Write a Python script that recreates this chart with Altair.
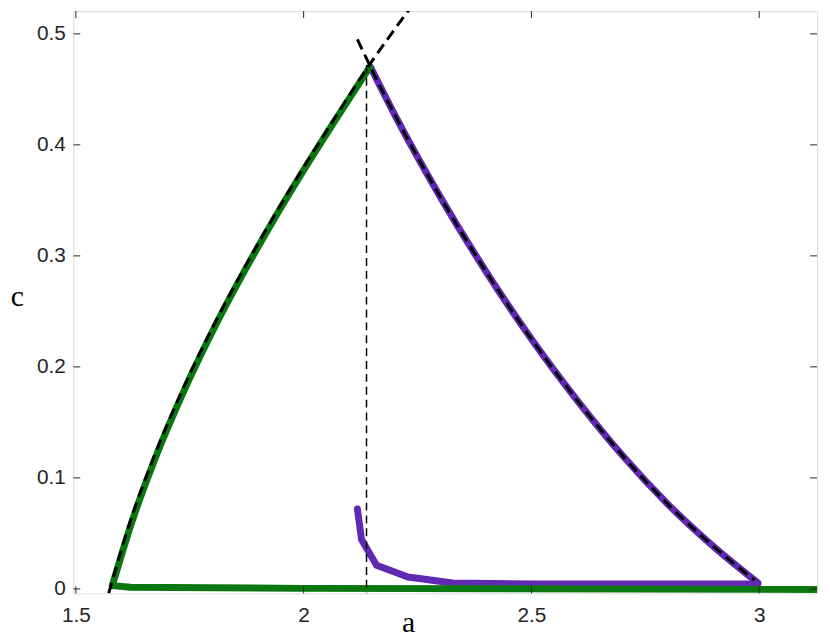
import altair as alt
import pandas as pd

# ---------------- data ----------------
x_ticks = [1.5, 2, 2.5, 3]
y_ticks = [0, 0.1, 0.2, 0.3, 0.4, 0.5]

# green branch: left edge (bottom -> cusp) and the bottom edge
green_curve_a = [1.580, 1.623, 1.674, 1.740, 1.805, 1.870, 1.935, 2.000, 2.073, 2.145]
green_curve_c = [0.0030, 0.0604, 0.1175, 0.1809, 0.2362, 0.2862, 0.3330, 0.3772, 0.4246, 0.470]
green_base_a = [1.580, 1.620, 2.000, 3.127]
green_base_c = [0.0030, 0.0015, 0.0005, -0.0005]

# purple branch: right edge (cusp -> bottom right) and the lower arm
purple_curve_a = [2.147, 2.200, 2.300, 2.400, 2.500, 2.600, 2.700, 2.800, 2.900, 2.997]
purple_curve_c = [0.470, 0.4271, 0.3531, 0.2861, 0.2251, 0.1701, 0.1201, 0.0761, 0.0381, 0.0055]
purple_low_a = [2.118, 2.127, 2.160, 2.229, 2.327, 2.508, 2.997]
purple_low_c = [0.072, 0.0446, 0.0214, 0.0107, 0.0053, 0.0045, 0.0045]

# black dashed analytic curves
dash_left_a = [1.572, 1.577, 1.619, 1.670, 1.736, 1.801, 1.866, 1.931, 1.996, 2.069, 2.141, 2.240]
dash_left_c = [-0.004, 0.0030, 0.0604, 0.1175, 0.1809, 0.2362, 0.2862, 0.3330, 0.3772, 0.4246, 0.470, 0.5265]

dash_right_a = [2.118, 2.147, 2.200, 2.300, 2.400, 2.500, 2.600, 2.700, 2.800, 2.900, 2.990]
dash_right_c = [0.495, 0.470, 0.4271, 0.3531, 0.2861, 0.2251, 0.1701, 0.1201, 0.0761, 0.0381, 0.008]

vline_a = [2.138, 2.138]
vline_c = [0.472, -0.004]

# ---------------- layout / style ----------------
X_DOMAIN = [1.4945, 3.127]
Y_DOMAIN = [-0.004, 0.5205]
W, H = 751, 588
TICK = 7
AX = "#262626"
GREEN = "#0a780e"
PURPLE = "#6128b2"


def frame(a, c):
    return pd.DataFrame({"a": a, "c": c, "i": list(range(len(a)))})


xs = alt.Scale(domain=X_DOMAIN, nice=False, zero=False)
ys = alt.Scale(domain=Y_DOMAIN, nice=False, zero=False)

xaxis = alt.Axis(values=x_ticks, format="~g", title="a", grid=False, ticks=False, domain=False,
                 labelFont="Liberation Sans", labelFontSize=21, labelColor=AX, labelPadding=11,
                 titleFont="Liberation Serif", titleFontSize=30, titleFontWeight="normal",
                 titleColor="#000000", titleX=338, titleY=30, titleBaseline="middle",
                 titleAlign="center")
yaxis = alt.Axis(values=y_ticks, format="~g", title="c", grid=False, ticks=False, domain=False,
                 labelFont="Liberation Sans", labelFontSize=21, labelColor=AX, labelPadding=8,
                 titleFont="Liberation Serif", titleFontSize=30, titleFontWeight="normal",
                 titleColor="#000000", titleAngle=0, titleX=-57, titleY=288,
                 titleBaseline="middle", titleAlign="center")

X = alt.X("a:Q", scale=xs, axis=xaxis)
Y = alt.Y("c:Q", scale=ys, axis=yaxis)


def line(a, c, interp="linear", **kw):
    return alt.Chart(frame(a, c)).mark_line(interpolate=interp, clip=True, **kw).encode(
        x=X, y=Y, order="i:Q")


solid = dict(strokeWidth=7, strokeCap="round", strokeJoin="round")
purple_curve = line(purple_curve_a, purple_curve_c, "monotone", color=PURPLE, **solid)
purple_low = line(purple_low_a, purple_low_c, "linear", color=PURPLE, **solid)
green_curve = line(green_curve_a, green_curve_c, "monotone", color=GREEN, **solid)
green_base = line(green_base_a, green_base_c, "linear", color=GREEN, **solid)

dash_left = line(dash_left_a, dash_left_c, "monotone", color="#000000",
                 strokeWidth=3, strokeDash=[11, 6])
dash_right = line(dash_right_a, dash_right_c, "monotone", color="#000000",
                  strokeWidth=3, strokeDash=[11, 6])
vline = line(vline_a, vline_c, "linear", color="#000000", strokeWidth=1.5, strokeDash=[8, 5])

# inward ticks on all four sides (MATLAB box style)
xt = pd.DataFrame({"a": x_ticks})
yt = pd.DataFrame({"c": y_ticks})
tick_b = alt.Chart(xt).mark_rule(color=AX, strokeWidth=1).encode(
    x=X, y=alt.value(H), y2=alt.value(H - TICK))
tick_t = alt.Chart(xt).mark_rule(color=AX, strokeWidth=1).encode(
    x=X, y=alt.value(0), y2=alt.value(TICK))
tick_l = alt.Chart(yt).mark_rule(color=AX, strokeWidth=1).encode(
    y=Y, x=alt.value(0), x2=alt.value(TICK))
tick_r = alt.Chart(yt).mark_rule(color=AX, strokeWidth=1).encode(
    y=Y, x=alt.value(W), x2=alt.value(W - TICK))

chart = alt.layer(
    purple_curve, purple_low, green_curve, green_base, dash_left, dash_right, vline,
    tick_b, tick_t, tick_l, tick_r
).properties(
    width=W, height=H,
    autosize=alt.AutoSizeParams(type="none"),
    padding={"left": 66, "top": 0, "right": 5, "bottom": 46},
).configure_view(
    stroke=AX, strokeWidth=1
).configure(background="white")

chart.save("out.html", embed_options={"renderer": "svg", "actions": False})
